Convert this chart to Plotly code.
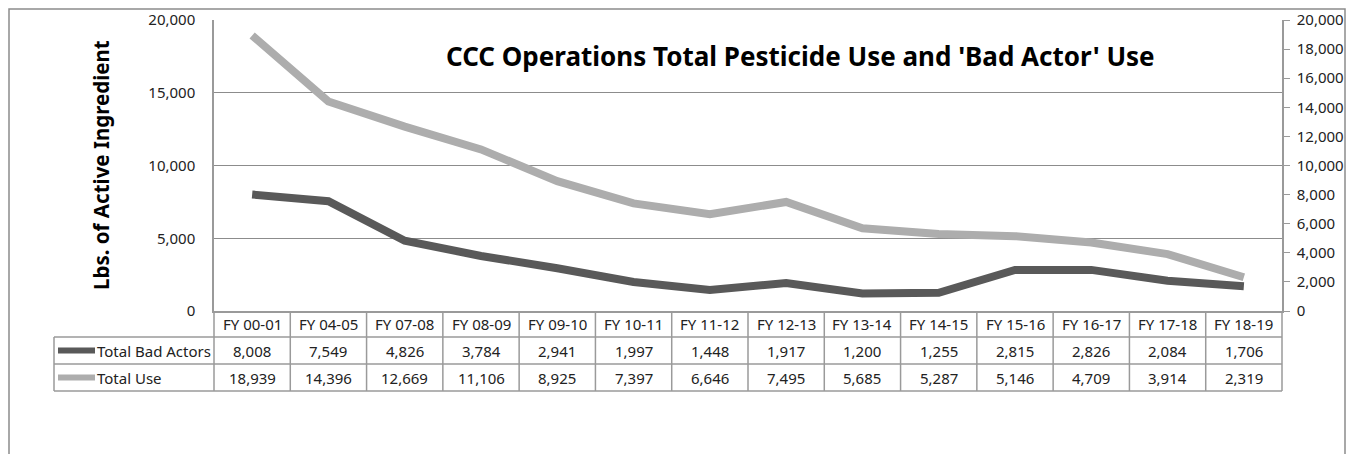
import plotly.graph_objects as go

years = ["FY 00-01", "FY 04-05", "FY 07-08", "FY 08-09", "FY 09-10", "FY 10-11", "FY 11-12",
         "FY 12-13", "FY 13-14", "FY 14-15", "FY 15-16", "FY 16-17", "FY 17-18", "FY 18-19"]
bad_actors = [8008, 7549, 4826, 3784, 2941, 1997, 1448, 1917, 1200, 1255, 2815, 2826, 2084, 1706]
total_use = [18939, 14396, 12669, 11106, 8925, 7397, 6646, 7495, 5685, 5287, 5146, 4709, 3914, 2319]

series_names = ["Total Bad Actors", "Total Use"]
series_colors = ["#595959", "#ADADAD"]

FONT = "Noto Sans, Open Sans, sans-serif"
GRID = "#8C8C8C"
LINE = "#9A9A9A"

# page body has an 8px margin on every side, keep the figure inside the window
OFF = 8
W, H = 1354 - 2 * OFF, 462 - 2 * OFF
PL, PR, PT, PB = 214, 1282, 20, 311   # plot area in window pixels
L, R, T, B = PL - OFF, W - (PR - OFF), PT - OFF, H - (PB - OFF)
PW, PH = W - L - R, H - T - B


def px(xp):
    # window pixel x -> paper x
    return (xp - PL) / PW


def py(yp):
    # window pixel y -> paper y
    return (PB - yp) / PH


fig = go.Figure()
for name, vals, col in zip(series_names, [bad_actors, total_use], series_colors):
    fig.add_trace(go.Scatter(x=years, y=vals, name=name, mode="lines",
                             line=dict(color=col, width=8), hoverinfo="x+y+name"))
# invisible trace so the secondary axis is drawn
fig.add_trace(go.Scatter(x=years, y=total_use, yaxis="y2", mode="lines",
                         line=dict(width=0), showlegend=False, hoverinfo="skip", opacity=0))

fig.update_layout(
    width=W, height=H,
    margin=dict(l=L, r=R, t=T, b=B, autoexpand=False),
    paper_bgcolor="white", plot_bgcolor="white",
    showlegend=False,
    font=dict(family=FONT, size=15, color="#222"),
    xaxis=dict(type="category", range=[-0.5, len(years) - 0.5], showticklabels=False,
               showgrid=False, showline=True, linecolor=LINE, linewidth=1.5, ticks="",
               automargin=False),
    yaxis=dict(range=[0, 20000], dtick=5000, tickformat=",", showgrid=True, gridcolor=GRID,
               gridwidth=1, showline=True, linecolor=LINE, linewidth=1.5, ticks="",
               ticklabelstandoff=14, zeroline=False, tickfont=dict(size=15), automargin=False),
    yaxis2=dict(range=[0, 20000], dtick=2000, tickformat=",", overlaying="y", side="right",
                showgrid=False, showline=True, linecolor=LINE, linewidth=1.5, ticks="outside",
                ticklen=6, tickcolor=LINE, zeroline=False, tickfont=dict(size=15),
                ticklabelstandoff=4, automargin=False),
)

# title and axis title
fig.add_annotation(text="<b>CCC Operations Total Pesticide Use and 'Bad Actor' Use</b>",
                   xref="paper", yref="paper", x=px(800), y=py(56), showarrow=False,
                   font=dict(size=26, color="#000"), xanchor="center", yanchor="middle")
fig.add_annotation(text="<b>Lbs. of Active Ingredient</b>", textangle=-90,
                   xref="paper", yref="paper", x=px(101), y=py(165), showarrow=False,
                   font=dict(size=20.5, color="#000"), xanchor="center", yanchor="middle")

# data table
row_top = [311, 337, 364, 391]
n = len(years)
shapes = []
line_style = dict(color=LINE, width=1.5)
for yp in row_top[1:]:
    shapes.append(dict(type="line", xref="paper", yref="paper", x0=px(54), x1=1,
                       y0=py(yp), y1=py(yp), line=line_style))
for k in range(n + 1):
    shapes.append(dict(type="line", xref="paper", yref="paper", x0=k / n, x1=k / n,
                       y0=py(row_top[0]), y1=py(row_top[-1]), line=line_style))
shapes.append(dict(type="line", xref="paper", yref="paper", x0=px(54), x1=px(54),
                   y0=py(row_top[1]), y1=py(row_top[-1]), line=line_style))
# outer chart border
shapes.append(dict(type="rect", xref="paper", yref="paper", x0=px(9), x1=px(1345),
                   y0=py(9), y1=py(470), line=dict(color="#8C8C8C", width=1.5)))

for y in years:
    fig.add_annotation(text=y, xref="x", yref="paper", x=y, y=py((row_top[0] + row_top[1]) / 2),
                       xanchor="center", yanchor="middle", showarrow=False, font=dict(size=15))
rows = [bad_actors, total_use]
for r, (name, vals, col) in enumerate(zip(series_names, rows, series_colors)):
    yc = (row_top[r + 1] + row_top[r + 2]) / 2
    for y, v in zip(years, vals):
        fig.add_annotation(text=f"{v:,}", xref="x", yref="paper", x=y, y=py(yc),
                           xanchor="center", yanchor="middle", showarrow=False,
                           font=dict(size=15))
    fig.add_annotation(text=name, xref="paper", yref="paper", x=px(95), y=py(yc),
                       xanchor="left", yanchor="middle", showarrow=False, font=dict(size=15))
    shapes.append(dict(type="line", xref="paper", yref="paper", x0=px(58), x1=px(95),
                       y0=py(yc), y1=py(yc), line=dict(color=col, width=6)))

fig.update_layout(shapes=shapes)
fig.write_html("out.html")
